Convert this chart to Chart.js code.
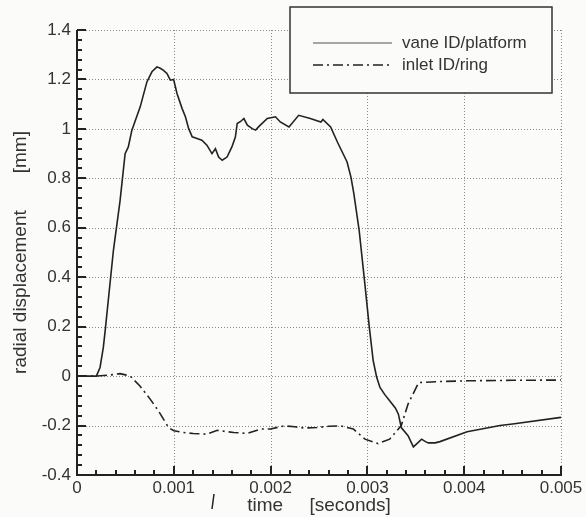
<!DOCTYPE html>
<html>
<head>
<meta charset="utf-8">
<script src="https://cdn.jsdelivr.net/npm/chart.js@4/dist/chart.umd.min.js"></script>
<style>
  html, body { margin: 0; padding: 0; background: #fbfbf9; }
  #c { display: block; }
</style>
</head>
<body>
<canvas id="c" width="586" height="517"></canvas>
<script>
// ---- data (time in seconds, displacement in mm) ----
const vaneTime = [0, 0.0001, 0.0002, 0.000238, 0.000272, 0.00029, 0.000376, 0.000445, 0.000497, 0.00053, 0.000567,
  0.000653, 0.000722, 0.000774, 0.000826, 0.00086, 0.000894, 0.000929, 0.000964, 0.000998, 0.001033, 0.001085,
  0.00112, 0.001153, 0.00119, 0.00124, 0.00129, 0.001342, 0.001394, 0.00143, 0.001463, 0.0015, 0.00155, 0.0016,
  0.001636, 0.001655, 0.00169, 0.001724, 0.00176, 0.00181, 0.001845, 0.00188, 0.001966, 0.00205, 0.0021, 0.00219,
  0.00229, 0.00241, 0.00252, 0.00254, 0.00262, 0.00269, 0.00279, 0.00283, 0.00286, 0.002915, 0.00297, 0.00302,
  0.00306, 0.003096, 0.00313, 0.00318, 0.00323, 0.00329, 0.00332, 0.00335, 0.00342, 0.003475, 0.00352, 0.00356,
  0.0036, 0.00363, 0.0037, 0.00375, 0.00403, 0.00437, 0.0045, 0.005];
const vaneDisp = [0, 0, 0, 0.035, 0.116, 0.18, 0.508, 0.71, 0.90, 0.927, 0.995,
  1.089, 1.19, 1.231, 1.251, 1.245, 1.237, 1.224, 1.197, 1.2, 1.143, 1.083,
  1.049, 1.002, 0.968, 0.961, 0.954, 0.934, 0.9, 0.92, 0.886, 0.873, 0.886, 0.927,
  0.967, 1.022, 1.03, 1.042, 1.015, 1.001, 0.995, 1.01, 1.042, 1.049, 1.028, 1.008,
  1.055, 1.042, 1.028, 1.038, 1.008, 0.947, 0.866, 0.805, 0.738, 0.589, 0.387, 0.197,
  0.062, -0.005, -0.046, -0.075, -0.1, -0.13, -0.154, -0.208, -0.241, -0.286, -0.27, -0.255,
  -0.265, -0.27, -0.27, -0.265, -0.225, -0.2, -0.194, -0.167];

const inletTime = [0, 0.0002, 0.00035, 0.000445, 0.0005, 0.00055, 0.00065, 0.000756, 0.00084, 0.000946, 0.001,
  0.0011, 0.0012, 0.00134, 0.00145, 0.00155, 0.00162, 0.00176, 0.0019, 0.002, 0.00214, 0.00225, 0.00235, 0.00248,
  0.0026, 0.00272, 0.002855, 0.002975, 0.00311, 0.00323, 0.00335, 0.00342, 0.00353, 0.00375, 0.00403, 0.0045, 0.005];
const inletDisp = [0, 0, 0.005, 0.01, 0.005, 0, -0.04, -0.093, -0.14, -0.208, -0.221,
  -0.228, -0.232, -0.235, -0.219, -0.225, -0.228, -0.232, -0.214, -0.214, -0.201, -0.205, -0.21, -0.208,
  -0.203, -0.201, -0.214, -0.255, -0.273, -0.255, -0.2, -0.113, -0.026, -0.022, -0.019, -0.017, -0.016];

const seriesNames = ['vane ID/platform', 'inlet ID/ring'];
const xTicks = [0, 0.001, 0.002, 0.003, 0.004, 0.005];
const yTicks = [-0.4, -0.2, 0, 0.2, 0.4, 0.6, 0.8, 1, 1.2, 1.4];
const xMinorStep = 0.0002;
const yMinorStep = 0.04;
const xTitle = 'time     [seconds]';
const yTitle = 'radial displacement       [mm]';

const FONT = '"Liberation Sans", Arial, Helvetica, sans-serif';
const INK = '#222';

function pts(xs, ys) { return xs.map((x, i) => ({ x: x, y: ys[i] })); }

const bgPlugin = {
  id: 'bg',
  beforeDraw(chart) {
    const ctx = chart.ctx;
    ctx.save();
    ctx.fillStyle = '#fbfbf9';
    ctx.fillRect(0, 0, chart.width, chart.height);
    ctx.restore();
  }
};

const gridPlugin = {
  id: 'dotgrid',
  beforeDatasetsDraw(chart) {
    const ctx = chart.ctx, a = chart.chartArea, sx = chart.scales.x, sy = chart.scales.y;
    ctx.save();
    ctx.fillStyle = '#8a8a8a';
    xTicks.forEach(v => {
      const px = Math.round(sx.getPixelForValue(v));
      for (let yy = Math.round(a.top); yy < a.bottom; yy += 3) ctx.fillRect(px, yy, 1, 1);
    });
    yTicks.forEach(v => {
      const py = Math.round(sy.getPixelForValue(v));
      for (let xx = Math.round(a.left); xx < a.right; xx += 3) ctx.fillRect(xx, py, 1, 1);
    });
    ctx.restore();
  }
};

const framePlugin = {
  id: 'axesframe',
  afterDraw(chart) {
    const ctx = chart.ctx;
    ctx.save();
    try {
      const a = chart.chartArea, sx = chart.scales.x, sy = chart.scales.y;
      const L = Math.round(a.left), B = Math.round(a.bottom), T = Math.round(a.top), R = Math.round(a.right);
      ctx.fillStyle = INK;
      ctx.fillRect(L - 1, T, 2, B - T + 1);
      ctx.fillRect(L - 1, B - 1, R - L + 2, 2);
      const nx = Math.round((xTicks[xTicks.length - 1] - xTicks[0]) / xMinorStep);
      for (let i = 0; i <= nx; i++) {
        const px = Math.round(sx.getPixelForValue(xTicks[0] + i * xMinorStep));
        const len = (i % 5 === 0) ? 9 : 5;
        ctx.fillRect(px - 1, B - len, 2, len);
      }
      const ny = Math.round((yTicks[yTicks.length - 1] - yTicks[0]) / yMinorStep);
      for (let i = 0; i <= ny; i++) {
        const py = Math.round(sy.getPixelForValue(yTicks[0] + i * yMinorStep));
        const len = (i % 5 === 0) ? 9 : 5;
        ctx.fillRect(L, py - 1, len, 2);
      }
      // small stray stroke present under the x axis in the original figure
      ctx.strokeStyle = INK;
      ctx.lineWidth = 1.5;
      ctx.beginPath(); ctx.moveTo(212, 509); ctx.lineTo(214, 494); ctx.stroke();
    } catch (e) { /* ignore */ }

    const ds = chart.data.datasets;
    const bx = 290, by = 7, bw = 262, bh = 86;
    ctx.fillStyle = '#fbfbf9';
    ctx.fillRect(bx, by, bw, bh);
    ctx.strokeStyle = '#333';
    ctx.lineWidth = 1.5;
    ctx.strokeRect(bx, by, bw, bh);
    const rows = [43, 65];
    const sampleColors = ['#8a8a8a', INK];
    ds.forEach((d, i) => {
      ctx.strokeStyle = sampleColors[i];
      ctx.lineWidth = 1.5;
      ctx.setLineDash(d.borderDash || []);
      ctx.beginPath(); ctx.moveTo(313, rows[i]); ctx.lineTo(392, rows[i]); ctx.stroke();
      ctx.setLineDash([]);
      ctx.fillStyle = '#333';
      ctx.font = '17px ' + FONT;
      ctx.textBaseline = 'middle';
      ctx.textAlign = 'left';
      ctx.fillText(d.label, 402, rows[i]);
    });
    ctx.restore();
  }
};

new Chart(document.getElementById('c'), {
  type: 'line',
  data: {
    datasets: [
      { label: seriesNames[0], data: pts(vaneTime, vaneDisp), borderColor: INK, borderWidth: 1.6, pointRadius: 0, tension: 0, fill: false },
      { label: seriesNames[1], data: pts(inletTime, inletDisp), borderColor: INK, borderWidth: 1.6, pointRadius: 0, tension: 0, fill: false, borderDash: [10, 4, 2, 4] }
    ]
  },
  options: {
    responsive: false,
    animation: false,
    devicePixelRatio: 1,
    layout: { padding: { top: 30, right: 25, left: 0, bottom: 0 } },
    plugins: { legend: { display: false }, tooltip: { enabled: false } },
    scales: {
      x: {
        type: 'linear', min: 0, max: 0.005,
        afterFit(s) { s.height = 42; },
        afterBuildTicks(s) { s.ticks = xTicks.map(v => ({ value: v })); },
        grid: { display: false, drawTicks: false },
        border: { display: false },
        ticks: { padding: 3, color: '#333', font: { family: FONT, size: 17 }, maxRotation: 0, autoSkip: false, callback: v => String(Number(v.toFixed(4))) },
        title: { display: true, text: xTitle, color: '#333', font: { family: FONT, size: 19 }, padding: { top: 0, bottom: 0 } }
      },
      y: {
        type: 'linear', min: -0.4, max: 1.4,
        afterFit(s) { s.width = 77; },
        afterBuildTicks(s) { s.ticks = yTicks.map(v => ({ value: v })); },
        grid: { display: false, drawTicks: false },
        border: { display: false },
        ticks: { padding: 6, color: '#333', font: { family: FONT, size: 17 }, autoSkip: false, callback: v => String(Number(v.toFixed(2))) },
        title: { display: true, text: yTitle, color: '#333', font: { family: FONT, size: 19 }, padding: { top: 9, bottom: 0 } }
      }
    }
  },
  plugins: [bgPlugin, gridPlugin, framePlugin]
});
</script>
</body>
</html>
